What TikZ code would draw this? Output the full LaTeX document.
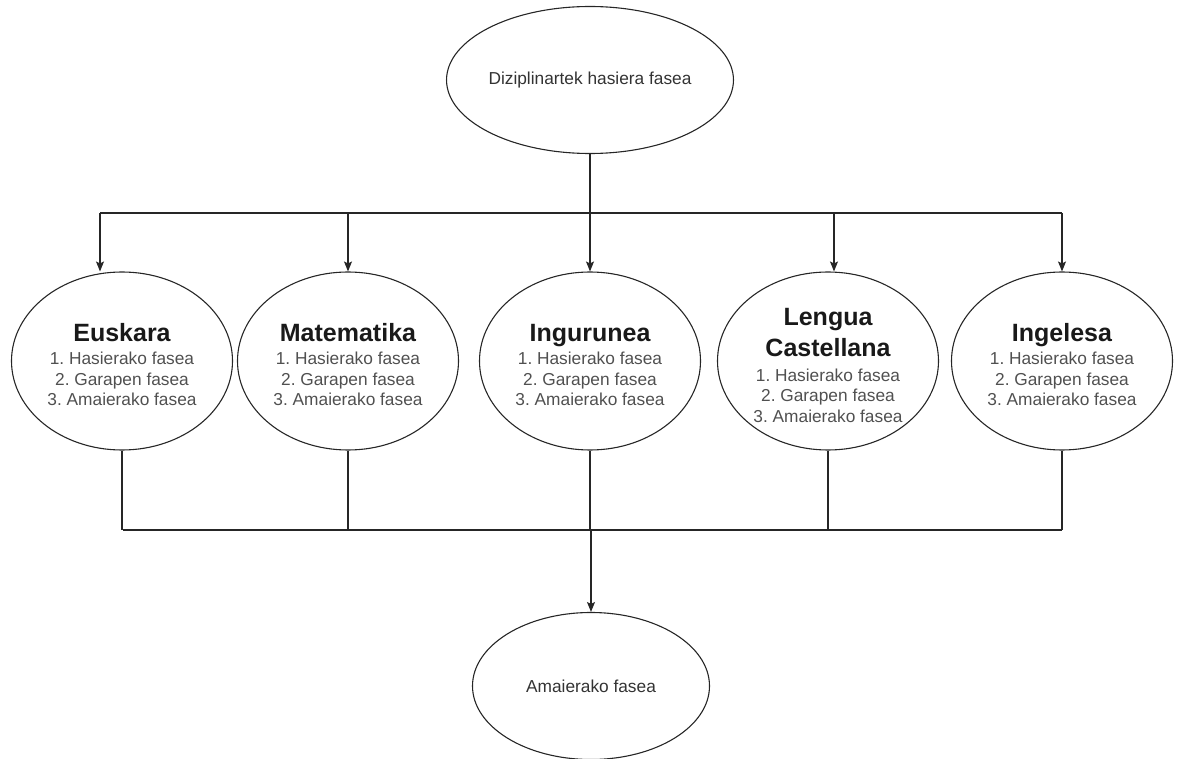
\documentclass[tikz,border=0pt]{standalone}
\usepackage{fontspec}
\setmainfont{Liberation Sans}
\usetikzlibrary{shapes.geometric,arrows.meta}
\definecolor{subgray}{HTML}{505050}
\definecolor{topgray}{HTML}{333333}
\frenchspacing
\begin{document}
\begin{tikzpicture}[x=1pt,y=-1pt,
  oval/.style={ellipse,draw=black!85,line width=1.1pt,inner sep=0pt,
    minimum width=221pt,minimum height=178pt,align=center,
    font=\fontsize{17.3}{20.5}\selectfont\frenchspacing,text=subgray},
  bigoval/.style={ellipse,draw=black!85,line width=1.1pt,inner sep=0pt,
    minimum width=237pt,minimum height=147pt,
    font=\fontsize{17.3}{20.5}\selectfont,text=topgray},
  conn/.style={draw=black!85,line width=1.1pt},
  arr/.style={conn,-{Stealth[length=10pt,width=8pt,inset=2pt]}}]
\newcommand{\ttl}[1]{{\fontsize{25}{30}\selectfont\bfseries\color{black!90}#1}}
\newcommand{\tstrut}{\rule{0pt}{26pt}}
\useasboundingbox (0,0) rectangle (1179,759);
\node[bigoval] (top) at (590,80) {\raisebox{-2pt}{Diziplinartek hasiera fasea}};
\node[oval] (eus) at (122,361) {\tstrut\ttl{Euskara}\\[2.5pt]1. Hasierako fasea\\2. Garapen fasea\\3. Amaierako fasea};
\node[oval] (mat) at (348,361) {\tstrut\ttl{Matematika}\\[2.5pt]1. Hasierako fasea\\2. Garapen fasea\\3. Amaierako fasea};
\node[oval] (ing) at (590,361) {\tstrut\ttl{Ingurunea}\\[2.5pt]1. Hasierako fasea\\2. Garapen fasea\\3. Amaierako fasea};
\node[oval] (len) at (828,361) {\tstrut\ttl{Lengua}\\[6.5pt]\ttl{Castellana}\\[4pt]1. Hasierako fasea\\2. Garapen fasea\\3. Amaierako fasea};
\node[oval] (ingl) at (1062,361) {\tstrut\ttl{Ingelesa}\\[2.5pt]1. Hasierako fasea\\2. Garapen fasea\\3. Amaierako fasea};
\node[bigoval] (end) at (591,686) {Amaierako fasea};
% top distribution
\coordinate (ta) at (100,213);
\coordinate (tb) at (348,213);
\coordinate (tc) at (590,213);
\coordinate (td) at (834,213);
\coordinate (te) at (1062,213);
\draw[conn] (ta) -- (te);
\draw[arr] (top.south) -- (ing.north);
\draw[arr] (ta) -- (ta |- eus.north);
\draw[arr] (tb) -- (mat.north);
\draw[arr] (td) -- (td |- len.north);
\draw[arr] (te) -- (ingl.north);
% bottom collection
\coordinate (ba) at (123,530);
\coordinate (be) at (1062,530);
\coordinate (bc) at (591,530);
\draw[conn] (ba) -- (be);
\draw[conn] (eus.south) -- (eus.south |- ba);
\draw[conn] (mat.south) -- (mat.south |- ba);
\draw[conn] (ing.south) -- (ing.south |- ba);
\draw[conn] (len.south) -- (len.south |- ba);
\draw[conn] (ingl.south) -- (ingl.south |- ba);
\draw[arr] (bc) -- (end.north);
\end{tikzpicture}
\end{document}
